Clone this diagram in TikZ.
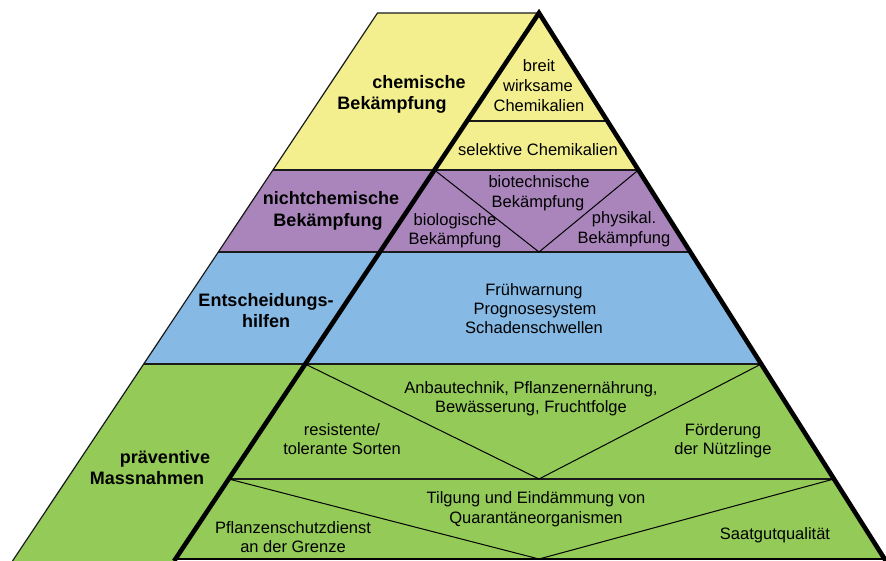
\documentclass[tikz,border=0pt]{standalone}
\usepackage{fontspec}
\setmainfont{Liberation Sans}
\definecolor{cyel}{HTML}{F4EF8E}
\definecolor{cpur}{HTML}{A985BC}
\definecolor{cblu}{HTML}{86BAE5}
\definecolor{cgrn}{HTML}{93CA58}
\definecolor{cline}{HTML}{1A1A1A}
\tikzset{
  band/.style={draw=cline, line width=1.2pt, line join=miter},
  vline/.style={draw=black, line width=1pt},
  thickedge/.style={draw=black, line width=4.6pt, line cap=butt, line join=miter},
  lab/.style={font=\fontsize{16.5}{19.5}\selectfont, inner sep=0pt, anchor=base},
  blab/.style={font=\bfseries\fontsize{18}{21}\selectfont, inner sep=0pt, anchor=base},
}
\begin{document}
\begin{tikzpicture}[x=1pt,y=-1pt]
\useasboundingbox (0,0) rectangle (886,561);
% corner coordinates
\coordinate (A) at (539,13);
\coordinate (L13) at (377.5,13);
\coordinate (L170) at (272.9,170);
\coordinate (L252) at (218.3,252);
\coordinate (L364) at (143.7,364);
\coordinate (L561) at (12.5,561);
\coordinate (M121) at (467.1,121);
\coordinate (M170) at (434.4,170);
\coordinate (M252) at (379.8,252);
\coordinate (M364) at (305.2,364);
\coordinate (M479) at (228.6,479);
\coordinate (M559) at (175.4,559);
\coordinate (M561) at (174.1,561);
\coordinate (R121) at (607.4,121);
\coordinate (R170) at (638.4,170);
\coordinate (R252) at (690.3,252);
\coordinate (R364) at (761.2,364);
\coordinate (R479) at (834.0,479);
\coordinate (R559) at (884.6,559);
\coordinate (R561) at (885.9,561);
\coordinate (Vp) at (539,252);
\coordinate (Vg1) at (539,479);
\coordinate (Vg2) at (539,559);

% left face bands
\fill[cyel] (L13) -- (A) -- (M170) -- (L170) -- cycle;
\fill[cpur] (L170) -- (M170) -- (M252) -- (L252) -- cycle;
\fill[cblu] (L252) -- (M252) -- (M364) -- (L364) -- cycle;
\fill[cgrn] (L364) -- (M364) -- (M561) -- (L561) -- cycle;
% right face bands
\fill[cyel] (A) -- (R170) -- (M170) -- cycle;
\fill[cpur] (M170) -- (R170) -- (R252) -- (M252) -- cycle;
\fill[cblu] (M252) -- (R252) -- (R364) -- (M364) -- cycle;
\fill[cgrn] (M364) -- (R364) -- (R559) -- (M559) -- cycle;

% outlines
\draw[band] (L561) -- (L13) -- (A);
\draw[band] (L170) -- (R170);
\draw[band] (L252) -- (R252);
\draw[band] (L364) -- (R364);
\draw[band] (M479) -- (R479);
\draw[band] (M121) -- (R121);

% internal V lines
\draw[vline] (M170) -- (Vp) -- (R170);
\draw[vline] (M364) -- (Vg1) -- (R364);
\draw[vline] (M479) -- (Vg2) -- (R479);

% bottom and thick edges
\draw[draw=black, line width=2.6pt] (M559) -- (R559);
\draw[thickedge] (M561) -- (A) -- (R561);

% left face labels
\node[blab] (t1) at (419,89) {chemische};
\node[blab] (t2) at (392,110) {Bekämpfung};
\node[blab] (t3) at (331,205) {nichtchemische};
\node[blab] (t4) at (328,227) {Bekämpfung};
\node[blab] (t5) at (266,306) {Entscheidungs-};
\node[blab] (t6) at (266,327) {hilfen};
\node[blab] (t7) at (165,463) {präventive};
\node[blab] (t8) at (147,484) {Massnahmen};

% right face labels
\node[lab] (r1) at (539,72) {breit};
\node[lab] (r2) at (538,92) {wirksame};
\node[lab] (r3) at (539,112) {Chemikalien};
\node[lab] (r4) at (538,156) {selektive Chemikalien};
\node[lab] (r5) at (539,188) {biotechnische};
\node[lab] (r6) at (538,208) {Bekämpfung};
\node[lab] (r7) at (455,226) {biologische};
\node[lab] (r8) at (455,245) {Bekämpfung};
\node[lab] (r9) at (624,224) {physikal.};
\node[lab] (r10) at (624,244) {Bekämpfung};
\node[lab] (r11) at (534,295) {Frühwarnung};
\node[lab] (r12) at (535,314) {Prognosesystem};
\node[lab] (r13) at (534,334) {Schadenschwellen};
\node[lab] (r14) at (531,393) {Anbautechnik, Pflanzenernährung,};
\node[lab] (r15) at (531,412) {Bewässerung, Fruchtfolge};
\node[lab] (r16) at (342,435) {resistente/};
\node[lab] (r17) at (342,454) {tolerante Sorten};
\node[lab] (r18) at (723,435) {Förderung};
\node[lab] (r19) at (723,454) {der Nützlinge};
\node[lab] (r20) at (536,503) {Tilgung und Eindämmung von};
\node[lab] (r21) at (536,523) {Quarantäneorganismen};
\node[lab] (r22) at (293,533) {Pflanzenschutzdienst};
\node[lab] (r23) at (293,552) {an der Grenze};
\node[lab] (r24) at (775,539) {Saatgutqualität};
\end{tikzpicture}
\end{document}
